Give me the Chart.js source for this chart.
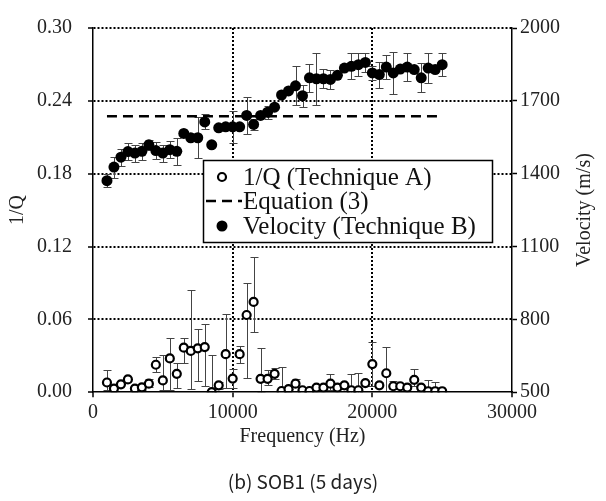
<!DOCTYPE html>
<html>
<head>
<meta charset="utf-8">
<script src="https://cdn.jsdelivr.net/npm/chart.js@4.4.1/dist/chart.umd.min.js"></script>
<style>
  html, body { margin: 0; padding: 0; background: #fff; }
</style>
</head>
<body>
<canvas id="qChart" width="606" height="501"></canvas>
<script>
// frequencies (Hz)
const freq = [1000, 1500, 2000, 2500, 3000, 3500, 4000, 4500, 5000, 5500,
  6000, 6500, 7000, 7500, 8000, 8500, 9000, 9500, 10000, 10500,
  11000, 11500, 12000, 12500, 13000, 13500, 14000, 14500, 15000, 15500,
  16000, 16500, 17000, 17500, 18000, 18500, 19000, 19500, 20000, 20500,
  21000, 21500, 22000, 22500, 23000, 23500, 24000, 24500, 25000];

// 1/Q (Technique A) with error bars
const qVals = [0.008, 0.003, 0.0065, 0.0105, 0.003, 0.004, 0.007, 0.0226, 0.0097, 0.0278,
  0.0151, 0.0367, 0.034, 0.0361, 0.0372, 0.0, 0.0057, 0.0313, 0.0112, 0.0313,
  0.0636, 0.0744, 0.011, 0.011, 0.0151, 0.001, 0.0025, 0.007, 0.0016, 0.001,
  0.0038, 0.0038, 0.007, 0.0038, 0.0057, 0.0016, 0.0016, 0.0075, 0.0232, 0.0057,
  0.0156, 0.0049, 0.0049, 0.0038, 0.0102, 0.0038, 0.0008, 0.0008, 0.0008];
const qErrUp = [0.010, 0, 0, 0, 0, 0.002, 0.004, 0.006, 0.021, 0.017,
  0.009, 0.008, 0.050, 0.016, 0.019, 0.031, 0.003, 0.033, 0.008, 0.007,
  0.026, 0.037, 0.025, 0.007, 0.005, 0.020, 0.002, 0.004, 0, 0,
  0.002, 0, 0.008, 0.003, 0.002, 0.013, 0.014, 0.002, 0.018, 0.003,
  0.022, 0.004, 0, 0.003, 0.009, 0, 0.009, 0.008, 0];
const qErrDown = [0.006, 0, 0, 0, 0, 0.002, 0.003, 0.006, 0.008, 0.026,
  0.012, 0.013, 0.031, 0.027, 0.032, 0, 0.003, 0.028, 0.008, 0.007,
  0.052, 0.025, 0.011, 0.005, 0.004, 0, 0, 0.003, 0, 0,
  0, 0, 0.005, 0, 0, 0.005, 0.005, 0, 0.018, 0,
  0.015, 0.002, 0, 0, 0.005, 0, 0, 0, 0];

// Velocity (Technique B), m/s, with error bars
const velVals = [1371, 1427, 1468, 1491, 1485, 1492, 1519, 1495, 1485, 1499,
  1492, 1566, 1548, 1548, 1613, 1519, 1589, 1593, 1593, 1593,
  1640, 1603, 1640, 1653, 1674, 1724, 1741, 1762, 1721, 1795,
  1791, 1791, 1788, 1805, 1835, 1842, 1849, 1858, 1815, 1808,
  1839, 1815, 1831, 1839, 1829, 1795, 1835, 1829, 1849];
const velErr = [27, 43, 35, 35, 35, 35, 20, 35, 35, 35,
  55, 10, 10, 85, 31, 0, 0, 0, 67, 0,
  75, 24, 10, 27, 0, 0, 0, 81, 45, 57,
  108, 40, 40, 0, 0, 54, 47, 38, 30, 54,
  50, 86, 0, 58, 0, 60, 60, 0, 47];

// Equation (3)
const eqFreq = [1000, 25000];
const eqVel = [1637, 1637];

const xTicks = [0, 10000, 20000, 30000];
const qTicks = [0, 0.06, 0.12, 0.18, 0.24, 0.30];
const velTicks = [500, 800, 1100, 1400, 1700, 2000];

const serif = "'Liberation Serif', 'Times New Roman', serif";

const errorBars = {
  id: 'errorBars',
  beforeDatasetsDraw(chart) {
    const ctx = chart.ctx, a = chart.chartArea, xs = chart.scales.x;
    ctx.save();
    ctx.beginPath();
    ctx.rect(a.left, a.top - 2, a.right - a.left, a.bottom - a.top + 2);
    ctx.clip();
    ctx.strokeStyle = '#444';
    ctx.lineWidth = 1;
    function draw(vals, up, down, ys) {
      vals.forEach(function (v, i) {
        if (!up[i] && !down[i]) return;
        const px = Math.round(xs.getPixelForValue(freq[i])) + 0.5;
        const top = Math.round(ys.getPixelForValue(v + up[i])) + 0.5;
        const bot = Math.round(ys.getPixelForValue(v - down[i])) + 0.5;
        ctx.beginPath();
        ctx.moveTo(px, top); ctx.lineTo(px, bot);
        ctx.moveTo(px - 4, top); ctx.lineTo(px + 4, top);
        ctx.moveTo(px - 4, bot); ctx.lineTo(px + 4, bot);
        ctx.stroke();
      });
    }
    draw(qVals, qErrUp, qErrDown, chart.scales.y);
    draw(velVals, velErr, velErr, chart.scales.y2);
    ctx.restore();
  }
};

const extras = {
  id: 'extras',
  afterDraw(chart) {
    const ctx = chart.ctx;
    ctx.save();
    // right axis title, reading upwards
    ctx.font = '20px ' + serif;
    ctx.fillStyle = '#222';
    ctx.textAlign = 'center';
    ctx.textBaseline = 'middle';
    ctx.translate(585, (chart.chartArea.top + chart.chartArea.bottom) / 2);
    ctx.rotate(-Math.PI / 2);
    ctx.fillText('Velocity (m/s)', 0, 0);
    ctx.restore();

    // legend box
    ctx.save();
    ctx.fillStyle = '#fff';
    ctx.fillRect(203, 160, 289, 83);
    ctx.strokeStyle = '#000';
    ctx.lineWidth = 1.5;
    ctx.strokeRect(203.5, 160.5, 289, 82);
    ctx.font = '25px ' + serif;
    ctx.textAlign = 'left';
    ctx.textBaseline = 'middle';

    ctx.beginPath();
    ctx.arc(222, 177, 4, 0, Math.PI * 2);
    ctx.fillStyle = '#fff';
    ctx.fill();
    ctx.lineWidth = 2.2;
    ctx.stroke();

    ctx.beginPath();
    ctx.setLineDash([10, 6]);
    ctx.lineWidth = 2.5;
    ctx.moveTo(206, 201);
    ctx.lineTo(242, 201);
    ctx.stroke();
    ctx.setLineDash([]);

    ctx.beginPath();
    ctx.arc(222, 226, 5.5, 0, Math.PI * 2);
    ctx.fillStyle = '#000';
    ctx.fill();

    ctx.fillStyle = '#111';
    ctx.fillText('1/Q (Technique A)', 243, 178);
    ctx.fillText('Equation (3)', 243, 202);
    ctx.fillText('Velocity (Technique B)', 243, 227);
    ctx.restore();
  }
};

function dots(edgeValues) {
  return function (c) {
    return edgeValues.indexOf(c.tick.value) >= 0 ? 'rgba(0,0,0,0)' : '#000';
  };
}

new Chart(document.getElementById('qChart'), {
  type: 'line',
  data: {
    datasets: [
      {
        label: 'Velocity (Technique B)',
        yAxisID: 'y2',
        data: freq.map((f, i) => ({ x: f, y: velVals[i] })),
        showLine: false,
        pointRadius: 5.5,
        pointBorderWidth: 0,
        pointBackgroundColor: '#000',
        pointBorderColor: '#000',
        order: 0
      },
      {
        label: 'Equation (3)',
        yAxisID: 'y2',
        data: eqFreq.map((f, i) => ({ x: f, y: eqVel[i] })),
        borderColor: '#000',
        borderWidth: 2.5,
        borderDash: [10, 6],
        pointRadius: 0,
        fill: false,
        order: 1
      },
      {
        label: '1/Q (Technique A)',
        yAxisID: 'y',
        data: freq.map((f, i) => ({ x: f, y: qVals[i] })),
        showLine: false,
        pointRadius: 4,
        pointBorderWidth: 2.2,
        pointBackgroundColor: '#fff',
        pointBorderColor: '#000',
        order: 2
      }
    ]
  },
  options: {
    responsive: false,
    animation: false,
    devicePixelRatio: 1,
    layout: { padding: { top: 21, left: 0, right: 0, bottom: 0 } },
    plugins: {
      legend: { display: false },
      tooltip: { enabled: false },
      title: {
        display: true,
        position: 'bottom',
        text: '(b) SOB1 (5 days)',
        color: '#222',
        font: { family: "'Noto Sans CJK KR', 'Noto Sans', sans-serif", size: 19, weight: 'normal' },
        padding: { top: 4, bottom: 8 }
      }
    },
    scales: {
      x: {
        type: 'linear',
        min: xTicks[0],
        max: xTicks[xTicks.length - 1],
        afterFit(s) { s.height = 74; },
        afterBuildTicks(s) { s.ticks = xTicks.map(v => ({ value: v })); },
        ticks: { color: '#222', font: { family: serif, size: 20 }, padding: 4, maxRotation: 0, callback: v => String(v) },
        grid: { color: dots([0, 30000]), lineWidth: 2, tickLength: 5, tickColor: '#000', tickWidth: 1.5, tickBorderDash: [] },
        border: { display: true, color: '#000', width: 1.5, dash: [2, 2], z: 1 },
        title: { display: true, text: 'Frequency (Hz)', color: '#222', font: { family: serif, size: 20 }, padding: { top: 4, bottom: 17 } }
      },
      y: {
        position: 'left',
        min: qTicks[0],
        max: qTicks[qTicks.length - 1],
        afterFit(s) { s.width = 93; },
        afterBuildTicks(s) { s.ticks = qTicks.map(v => ({ value: v })); },
        ticks: { color: '#222', font: { family: serif, size: 20 }, padding: 16, callback: v => v.toFixed(2) },
        grid: { color: dots([0]), lineWidth: 2, tickLength: 5, tickColor: '#000', tickWidth: 1.5, tickBorderDash: [] },
        border: { display: true, color: '#000', width: 1.5, dash: [2, 2], z: 1 },
        title: { display: true, text: '1/Q', color: '#222', font: { family: serif, size: 20 }, padding: { top: 6, bottom: 0 } }
      },
      y2: {
        position: 'right',
        min: velTicks[0],
        max: velTicks[velTicks.length - 1],
        afterFit(s) { s.width = 94; },
        afterBuildTicks(s) { s.ticks = velTicks.map(v => ({ value: v })); },
        ticks: { color: '#222', font: { family: serif, size: 20 }, padding: 3, callback: v => String(v) },
        grid: { drawOnChartArea: false, tickLength: 5, tickColor: '#000', tickWidth: 1.5 },
        border: { display: true, color: '#000', width: 1.5, z: 1 }
      }
    }
  },
  plugins: [errorBars, extras]
});
</script>
</body>
</html>
